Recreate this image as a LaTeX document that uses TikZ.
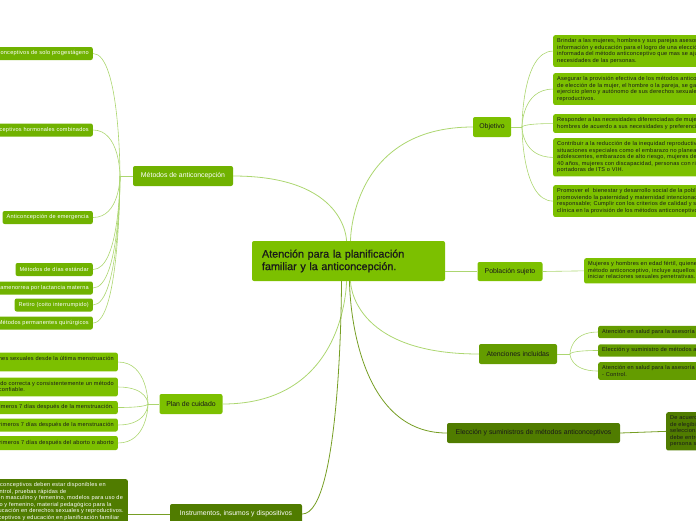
\documentclass[tikz,border=0pt]{standalone}
\usepackage{fontspec}
\setmainfont{Liberation Sans}
\newfontfamily\leaffont[LetterSpace=4]{Liberation Sans}
\newfontfamily\centrefont[FakeBold=0.8]{Liberation Sans}
\usetikzlibrary{positioning}

\definecolor{limegreen}{RGB}{124,192,0}
\definecolor{methodgreen}{RGB}{112,178,0}
\definecolor{olivegreen}{RGB}{100,156,0}
\definecolor{darkolive}{RGB}{80,124,0}
\definecolor{leafline}{RGB}{172,214,112}
\definecolor{oliveline}{RGB}{118,158,36}
\definecolor{inktext}{RGB}{25,25,25}

\begin{document}
\begin{tikzpicture}[x=1pt,y=-1pt,
    box/.style={rounded corners=2pt, align=left, inner ysep=3.5pt},
    branch node/.style={box, minimum height=20pt, inner xsep=4pt, font=\fontsize{6.9}{8}\selectfont},
    leaf node/.style={box, minimum height=13pt, inner xsep=4pt, font=\leaffont\fontsize{5.6}{6.5}\selectfont},
    stem line/.style={draw=leafline, line width=0.8pt},
    dark stem/.style={draw=oliveline, line width=0.8pt},
    leaf link/.style={draw=leafline, line width=0.6pt}]

    \useasboundingbox (0,0) rectangle (696,520);

    % centre
    \node[box, fill=limegreen, text=inktext, text width=173pt, inner xsep=10pt, minimum height=40pt,
          font=\centrefont\fontsize{10.8}{12.5}\selectfont] (centre) at (348.5,261)
        {Atención para la planificación\\familiar y la anticoncepción.};

    % branches
    \node[branch node, fill=methodgreen, text=white, minimum width=100pt, align=center] (metodos) at (183,176) {Métodos de anticoncepción};
    \node[branch node, fill=limegreen, text=inktext, minimum width=63pt, align=center] (plan) at (191,404) {Plan de cuidado};
    \node[branch node, fill=darkolive, text=white, minimum width=132pt, align=center] (instrumentos) at (236,514) {Instrumentos, insumos y dispositivos};
    \node[branch node, fill=limegreen, text=inktext, minimum width=38pt, align=center] (objetivo) at (492,127) {Objetivo};
    \node[branch node, fill=limegreen, text=inktext, minimum width=65pt, minimum height=19pt, align=center] (poblacion) at (510,271.5) {Población sujeto};
    \node[branch node, fill=olivegreen, text=inktext, minimum width=78pt, align=center] (atenciones) at (518,354) {Atenciones incluidas};
    \node[branch node, fill=darkolive, text=inktext, minimum width=173pt, align=center] (eleccion) at (533.5,433) {Elección y suministros de métodos anticonceptivos};

    % junctions
    \coordinate (mj) at (120,176);
    \coordinate (pj) at (148,404);
    \coordinate (oj) at (522,127);
    \coordinate (aj) at (570,354);
    \coordinate (ctop) at ([xshift=-2pt]centre.north);
    \coordinate (cbot) at ([xshift=-2pt]centre.south);

    % leaves of Métodos
    \node[leaf node, fill=methodgreen, text=white, anchor=east] (m1) at (93,53.5) {Anticonceptivos de solo progestágeno};
    \node[leaf node, fill=methodgreen, text=white, anchor=east] (m2) at (93,130) {Anticonceptivos hormonales combinados};
    \node[leaf node, fill=methodgreen, text=white, anchor=east] (m3) at (93,217.5) {Anticoncepción de emergencia};
    \node[leaf node, fill=methodgreen, text=white, anchor=east] (m4) at (93,269.5) {Métodos de días estándar};
    \node[leaf node, fill=methodgreen, text=white, anchor=east] (m5) at (93,288) {Método de amenorrea por lactancia materna};
    \node[leaf node, fill=methodgreen, text=white, anchor=east] (m6) at (93,305) {Retiro (coito interrumpido)};
    \node[leaf node, fill=methodgreen, text=white, anchor=east] (m7) at (93,323) {Métodos permanentes quirúrgicos};

    % leaves of Plan de cuidado
    \node[leaf node, fill=limegreen, text=inktext, anchor=east] (p1) at (118,362) {No ha tenido relaciones sexuales desde la última menstruación\\o el parto};
    \node[leaf node, fill=limegreen, text=inktext, anchor=east] (p2) at (118,387) {Ha estado usando correcta y consistentemente un método\\anticonceptivo confiable.};
    \node[leaf node, fill=limegreen, text=inktext, anchor=east] (p3) at (118,407.5) {Está dentro de los primeros 7 días después de la menstruación.};
    \node[leaf node, fill=limegreen, text=inktext, anchor=east] (p4) at (118,425) {Está dentro de los primeros 7 días después de la menstruación};
    \node[leaf node, fill=limegreen, text=inktext, anchor=east, minimum height=14pt] (p5) at (118,443) {Está dentro de los primeros 7 días después del aborto o aborto};

    % leaf of Instrumentos
    \node[leaf node, fill=darkolive, text=white, anchor=north east] (i1) at (128,479)
        {Los métodos anticonceptivos deben estar disponibles en\\
         la consulta de control, pruebas rápidas de\\
         embarazo, condón masculino y femenino, modelos para uso de\\
         condón masculino y femenino, material pedagógico para la\\
         información y educación en derechos sexuales y reproductivos.\\
         Métodos anticonceptivos y educación en planificación familiar};

    % leaves of Objetivo
    \node[leaf node, fill=limegreen, text=inktext, anchor=north west] (o1) at (553,35)
        {Brindar a las mujeres, hombres y sus parejas asesoría,\\información y educación para el logro de una elección libre e\\informada del método anticonceptivo que mas se ajuste a las\\necesidades de las personas.};
    \node[leaf node, fill=limegreen, text=inktext, anchor=north west] (o2) at (553,73)
        {Asegurar la provisión efectiva de los métodos anticonceptivos\\de elección de la mujer, el hombre o la pareja, se garantiza el\\ejercicio pleno y autónomo de sus derechos sexuales y\\reproductivos.};
    \node[leaf node, fill=limegreen, text=inktext, anchor=north west] (o3) at (553,114)
        {Responder a las necesidades diferenciadas de mujeres y\\hombres de acuerdo a sus necesidades y preferencias.};
    \node[leaf node, fill=limegreen, text=inktext, anchor=north west] (o4) at (553,138)
        {Contribuir a la reducción de la inequidad reproductiva en\\situaciones especiales como el embarazo no planeado en\\adolescentes, embarazos de alto riesgo, mujeres de más de\\40 años, mujeres con discapacidad, personas con riesgo o\\portadoras de ITS o VIH.};
    \node[leaf node, fill=limegreen, text=inktext, anchor=north west] (o5) at (553,185)
        {Promover el\ \ bienestar y desarrollo social de la población\\promoviendo la paternidad y maternidad intencionada y\\responsable; Cumplir con los criterios de calidad y seguridad\\clínica en la provisión de los métodos anticonceptivos.};

    % leaf of Población
    \node[leaf node, fill=limegreen, text=inktext, anchor=north west] (s1) at (584,258)
        {Mujeres y hombres en edad fértil, quienes deseen usar un\\método anticonceptivo, incluye aquellos que estén por\\iniciar relaciones sexuales penetrativas.};

    % leaves of Atenciones
    \node[leaf node, fill=olivegreen, text=inktext, anchor=west, minimum height=12pt] (a1) at (598,332) {Atención en salud para la asesoría en anticoncepción};
    \node[leaf node, fill=olivegreen, text=inktext, anchor=west, minimum height=12pt] (a2) at (598,350.5) {Elección y suministro de métodos anticonceptivos};
    \node[leaf node, fill=olivegreen, text=inktext, anchor=north west] (a3) at (598,362) {Atención en salud para la asesoría en anticoncepción\\- Control.};

    % leaf of Elección
    \node[leaf node, fill=darkolive, text=inktext, anchor=north west] (e1) at (666,412)
        {De acuerdo con los criterios médicos\\de elegibilidad, la persona debe\\seleccionar el método y se le\\debe entregar o aplicar a la\\persona su elección.};

    % centre to branches
    \draw[stem line] (ctop) .. controls (ctop) and (ctop |- metodos.east) .. (metodos.east);
    \draw[stem line] ([xshift=4pt]ctop) .. controls ([xshift=4pt]ctop) and ([xshift=4pt]ctop |- objetivo.west) .. (objetivo.west);
    \draw[stem line] (centre.east |- poblacion.west) -- (poblacion.west);
    \draw[stem line] ([xshift=4pt]cbot) .. controls ([xshift=4pt]cbot) and ([xshift=4pt]cbot |- atenciones.west) .. (atenciones.west);
    \draw[dark stem] ([xshift=3pt]cbot) .. controls ([xshift=3pt]cbot) and ([xshift=3pt]cbot |- eleccion.west) .. (eleccion.west);
    \draw[stem line] (cbot) .. controls (cbot) and (cbot |- plan.east) .. (plan.east);
    \draw[dark stem] ([xshift=-5pt]cbot) .. controls ([xshift=-5pt]cbot) and ([xshift=-5pt]cbot |- instrumentos.east) .. (instrumentos.east);

    % branches to leaves
    \draw[leaf link] (metodos.west) -- (mj);
    \foreach \leaf in {m1,m2,m3,m4,m5,m6,m7}
        \draw[leaf link] (mj) .. controls (mj) and (mj |- \leaf.east) .. (\leaf.east);

    \draw[leaf link] (plan.west) -- (pj);
    \foreach \leaf in {p1,p2,p3,p4,p5}
        \draw[leaf link] (pj) .. controls (pj) and (pj |- \leaf.east) .. (\leaf.east);

    \draw[dark stem] (instrumentos.west) -- (i1.east |- instrumentos.west);

    \draw[leaf link] (objetivo.east) -- (oj);
    \foreach \leaf in {o1,o2,o3,o4,o5}
        \draw[leaf link] (oj) .. controls (oj) and (oj |- \leaf.west) .. (\leaf.west);

    \draw[leaf link] (poblacion.east) -- (s1.west);

    \draw[leaf link] (atenciones.east) -- (aj);
    \foreach \leaf in {a1,a2,a3}
        \draw[leaf link] (aj) .. controls (aj) and (aj |- \leaf.west) .. (\leaf.west);

    \draw[dark stem] (eleccion.east) -- (e1.west);
\end{tikzpicture}
\end{document}
